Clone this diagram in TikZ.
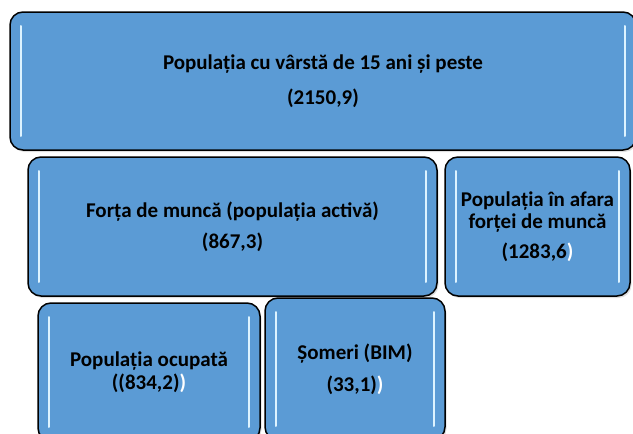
\documentclass[tikz,border=0pt]{standalone}
\usepackage{fontspec}
\setmainfont{Carlito}
\usetikzlibrary{shadows}
\definecolor{boxBlue}{HTML}{5B9BD5}
\definecolor{boxGlow}{HTML}{DDF3FF}

\tikzset{
  catbox/.style={draw=black,line width=1.5pt,fill=boxBlue,rounded corners=13pt,
    inner sep=0pt,outer sep=0pt,align=center,
    font=\fontsize{21}{22}\selectfont\bfseries,
    drop shadow={opacity=0.25,shadow xshift=1.5pt,shadow yshift=-2pt},
    path picture={
      \draw[glowline] ([xshift=11pt,yshift=-14pt]path picture bounding box.north west)
        -- ([xshift=11pt,yshift=14pt]path picture bounding box.south west);
      \draw[glowline] ([xshift=-11pt,yshift=-14pt]path picture bounding box.north east)
        -- ([xshift=-11pt,yshift=14pt]path picture bounding box.south east);
    }},
  glowline/.style={boxGlow,line width=2pt,line cap=round}
}

\begin{document}
\begin{tikzpicture}[x=1pt,y=-1pt]
\useasboundingbox (0,0) rectangle (633,434);
\clip (0,0) rectangle (633,434);
% total population and its two parts
\node[catbox,minimum width=626pt,minimum height=138pt] (total) at (323,81)
  {Populația cu vârstă de 15 ani și peste\\[13pt](2150,9)};
\node[catbox,minimum width=409pt,minimum height=139pt] (activa) at (232.5,226.5)
  {Forța de muncă (populația activă)\\[9pt](867,3)};
\node[catbox,minimum width=185pt,minimum height=139pt] (inactiva) at (537.5,226.5)
  {Populația în afara\\forței de muncă\\[8pt](1283,6\textcolor{white}{)}};
% active population split
\node[catbox,minimum width=222pt,minimum height=138pt] (ocupata) at (149,372)
  {Populația ocupată\\[1pt]((834,2)\textcolor{white}{)}};
\node[catbox,minimum width=180pt,minimum height=142pt] (someri) at (355,369)
  {Șomeri (BIM)\\[10pt](33,1)\textcolor{white}{)}};
\end{tikzpicture}
\end{document}
